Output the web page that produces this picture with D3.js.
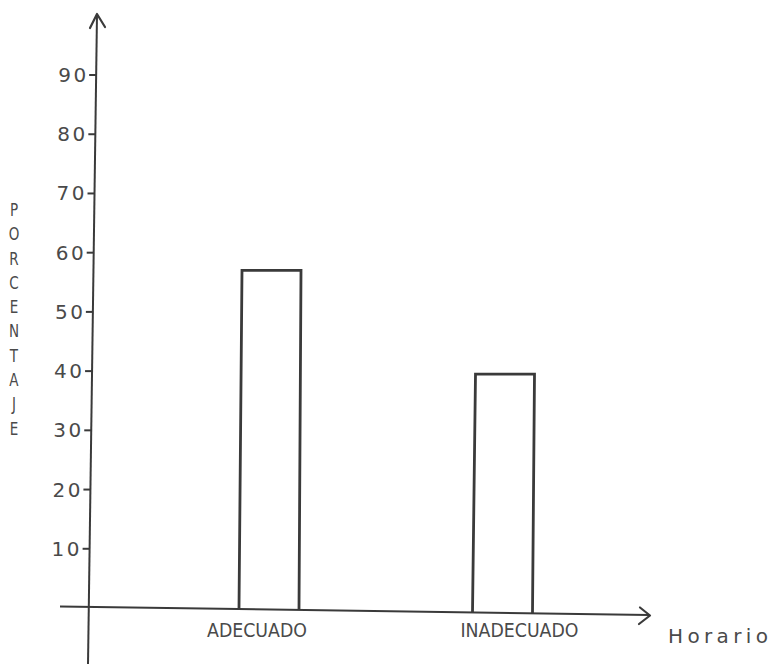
<!DOCTYPE html>
<html>
<head>
<meta charset="utf-8">
<script src="https://cdn.jsdelivr.net/npm/d3@7"></script>
<style>
  html, body { margin: 0; padding: 0; background: #fff; }
  svg { display: block; }
</style>
</head>
<body>
<svg id="chart" width="773" height="664"></svg>
<script>
// ---- data ----
const categories = ["ADECUADO", "INADECUADO"];
const values = [57, 39.5];
const yTicks = [10, 20, 30, 40, 50, 60, 70, 80, 90];
const yTitle = "PORCENTAJE";
const xTitle = "Horario";

// ---- layout ----
const W = 773, H = 664;
const svg = d3.select("#chart");
const ink = "#3a3a3a";
const textInk = "#4a4a4a";
const font = "'DejaVu Sans', sans-serif";

const y = d3.scaleLinear().domain([0, 100]).range([608, 15.8]);
const x = d3.scalePoint().domain(categories).range([269, 502.5]);
const barW = 60;

// slanted hand-drawn axes
const yAxisTop = [97, 14], yAxisBot = [88, 664];
const axisXat = yy => yAxisTop[0] + (yAxisBot[0] - yAxisTop[0]) * (yy - yAxisTop[1]) / (yAxisBot[1] - yAxisTop[1]);
const xAxisL = [60, 606.5], xAxisR = [649, 615];
const axisYat = xx => xAxisL[1] + (xAxisR[1] - xAxisL[1]) * (xx - xAxisL[0]) / (xAxisR[0] - xAxisL[0]);

// y axis line + arrow
svg.append("line")
  .attr("x1", yAxisTop[0]).attr("y1", yAxisTop[1])
  .attr("x2", yAxisBot[0]).attr("y2", yAxisBot[1])
  .attr("stroke", ink).attr("stroke-width", 2);
svg.append("path")
  .attr("d", `M90,28 L${yAxisTop[0]},${yAxisTop[1]} L105,27`)
  .attr("fill", "none").attr("stroke", ink).attr("stroke-width", 2.2)
  .attr("stroke-linejoin", "round").attr("stroke-linecap", "round");

// x axis line + arrow
svg.append("line")
  .attr("x1", xAxisL[0]).attr("y1", xAxisL[1])
  .attr("x2", xAxisR[0]).attr("y2", xAxisR[1])
  .attr("stroke", ink).attr("stroke-width", 2);
svg.append("path")
  .attr("d", `M640,607.5 L650,615.5 L639,624`)
  .attr("fill", "none").attr("stroke", ink).attr("stroke-width", 2.2)
  .attr("stroke-linejoin", "round").attr("stroke-linecap", "round");

// y ticks + labels (drawn from the y scale)
const tickG = svg.append("g");
yTicks.forEach(t => {
  const ty = y(t);
  const ax = axisXat(ty);
  tickG.append("line")
    .attr("x1", ax - 7).attr("x2", ax).attr("y1", ty).attr("y2", ty)
    .attr("stroke", ink).attr("stroke-width", 2);
  tickG.append("text")
    .attr("x", ax - 38).attr("y", ty + 7)
    .attr("font-family", font)
    .attr("font-size", 20)
    .attr("textLength", 28)
    .attr("lengthAdjust", "spacing")
    .attr("fill", textInk)
    .text(t);
});

// bars (outlined)
svg.append("g").selectAll("path")
  .data(categories.map((c, i) => ({ c, v: values[i] })))
  .join("path")
  .attr("d", d => {
    const x0 = x(d.c) - barW / 2, x1 = x(d.c) + barW / 2;
    const top = y(d.v);
    return `M${x0},${axisYat(x0)} L${x0 + 3},${top} L${x1 + 2},${top} L${x1},${axisYat(x1)}`;
  })
  .attr("fill", "none")
  .attr("stroke", ink)
  .attr("stroke-width", 2.8)
  .attr("stroke-linejoin", "miter");

// category labels
const labelShift = { "ADECUADO": -12, "INADECUADO": 17 };
const labelWidth = { "ADECUADO": 100, "INADECUADO": 118 };
svg.append("g").selectAll("text")
  .data(categories)
  .join("text")
  .attr("x", d => x(d) + labelShift[d] - labelWidth[d] / 2)
  .attr("y", 637)
  .attr("font-family", font)
  .attr("font-size", 19)
  .attr("textLength", d => labelWidth[d])
  .attr("lengthAdjust", "spacingAndGlyphs")
  .attr("fill", textInk)
  .text(d => d);

// x title
svg.append("text")
  .attr("x", 668).attr("y", 643)
  .attr("font-family", font)
  .attr("font-size", 20)
  .attr("textLength", 100)
  .attr("lengthAdjust", "spacing")
  .attr("fill", textInk)
  .text(xTitle);

// y title: stacked letters
svg.append("g").selectAll("text")
  .data(yTitle.split(""))
  .join("text")
  .attr("x", 14)
  .attr("y", (d, i) => 216 + i * 24.3)
  .attr("text-anchor", "middle")
  .attr("font-family", font)
  .attr("font-size", 18)
  .attr("transform", (d, i) => `translate(14,${216 + i * 24.3}) scale(0.75,1) translate(-14,${-(216 + i * 24.3)})`)
  .attr("fill", textInk)
  .text(d => d);
</script>
</body>
</html>
